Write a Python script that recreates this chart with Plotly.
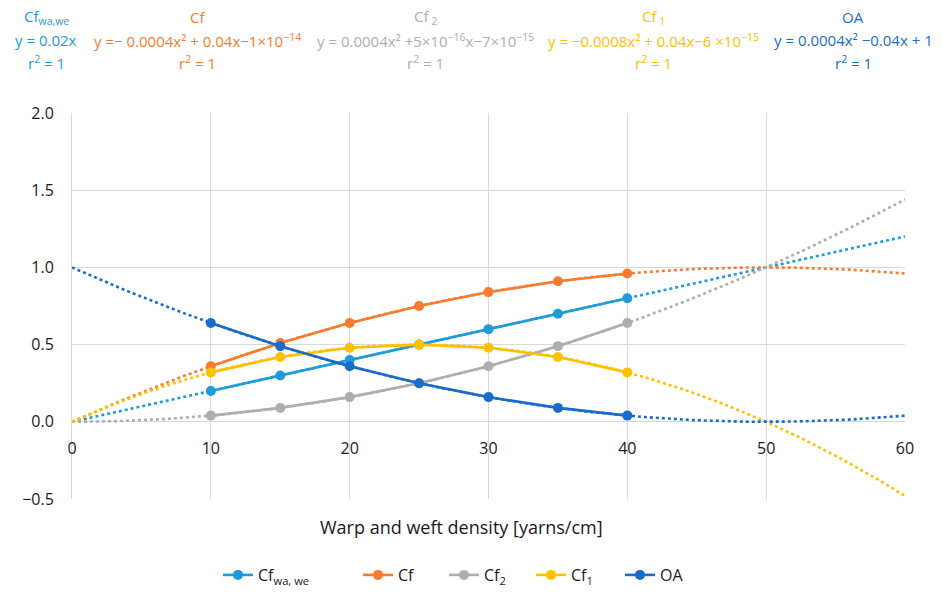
import numpy as np
import plotly.graph_objects as go

density = [10, 15, 20, 25, 30, 35, 40]
cf_wawe = [0.20, 0.30, 0.40, 0.50, 0.60, 0.70, 0.80]
cf = [0.36, 0.51, 0.64, 0.75, 0.84, 0.91, 0.96]
cf2 = [0.04, 0.09, 0.16, 0.25, 0.36, 0.49, 0.64]
cf1 = [0.32, 0.42, 0.48, 0.50, 0.48, 0.42, 0.32]
oa = [0.64, 0.49, 0.36, 0.25, 0.16, 0.09, 0.04]

series_names = ["Cf<sub>wa, we</sub>", "Cf", "Cf<sub>2</sub>", "Cf<sub>1</sub>", "OA"]
series_values = [cf_wawe, cf, cf2, cf1, oa]
fit_degree = [1, 2, 2, 2, 2]
colors = ["#1E9BDA", "#F57C30", "#AEAEAE", "#FFC000", "#1B6CC8"]

eq_titles = ["Cf<sub>wa,we</sub>", "Cf", "Cf<sub> 2</sub>", "Cf<sub> 1</sub>", "OA"]
eq_texts = [
    "y = 0.02x",
    "y =− 0.0004x² + 0.04x−1×10<sup>−14</sup>",
    "y = 0.0004x² +5×10<sup>−16</sup>x−7×10<sup>−15</sup>",
    "y = −0.0008x² + 0.04x−6 ×10<sup>−15</sup>",
    "y = 0.0004x² −0.04x + 1",
]
eq_centers = [46, 197, 425, 653, 853]
legend_left = [218, 358, 444, 531, 620]

x_ticks = [0, 10, 20, 30, 40, 50, 60]
y_ticks = [-0.5, 0.0, 0.5, 1.0, 1.5, 2.0]
x_title = "Warp and weft density [yarns/cm]"

FONT = "Open Sans"
W, H = 942, 600
ml, mr, mt, mb = 72, 37, 113, 101
pw, ph = W - ml - mr, H - mt - mb


def px_x(p):
    return (p - ml) / pw


def px_y(p):
    return 1 - (p - mt) / ph


fig = go.Figure()

xx = np.linspace(0, 60, 241)
for name, vals, deg, col in zip(series_names, series_values, fit_degree, colors):
    coef = np.polyfit(density, vals, deg)
    fig.add_trace(go.Scatter(x=xx, y=np.polyval(coef, xx), mode="lines",
                             line=dict(color=col, width=2.6, dash="dot"),
                             showlegend=False, hoverinfo="skip"))

legend_layouts = {}
for i, (name, vals, col) in enumerate(zip(series_names, series_values, colors)):
    lname = "legend" if i == 0 else f"legend{i + 1}"
    fig.add_trace(go.Scatter(x=density, y=vals, mode="lines+markers", name=name,
                             line=dict(color=col, width=2.6),
                             marker=dict(color=col, size=10),
                             legend=lname))
    legend_layouts[lname] = dict(
        x=px_x(legend_left[i]), xanchor="left", y=px_y(558), yanchor="top",
        orientation="h", bgcolor="rgba(0,0,0,0)",
        font=dict(family=FONT, size=16, color="#1a1a1a"))

for title, txt, cx, col in zip(eq_titles, eq_texts, eq_centers, colors):
    for i, t in enumerate([title, txt, "r<sup>2</sup> = 1"]):
        fig.add_annotation(text=t, x=px_x(cx), y=px_y(17 + 23 * i),
                           xref="paper", yref="paper",
                           showarrow=False, xanchor="center", yanchor="middle",
                           font=dict(family=FONT, size=15, color=col))

fig.add_annotation(text=x_title, x=px_x(461), y=px_y(527),
                   xref="paper", yref="paper", showarrow=False,
                   xanchor="center", yanchor="middle",
                   font=dict(family=FONT, size=18, color="#1a1a1a"))

fig.update_layout(
    width=W, height=H,
    margin=dict(l=ml, r=mr, t=mt, b=mb, autoexpand=False),
    paper_bgcolor="white", plot_bgcolor="white",
    font=dict(family=FONT, size=15, color="#1a1a1a"),
    showlegend=True,
    xaxis=dict(range=[0, 60], tickvals=x_ticks, ticktext=[str(v) for v in x_ticks],
               showgrid=True, gridcolor="#D9D9D9", gridwidth=1,
               zeroline=False, showline=False, ticks="",
               anchor="free", position=0.2, ticklabelstandoff=15,
               tickfont=dict(family=FONT, size=16, color="#1a1a1a")),
    yaxis=dict(range=[-0.5, 2.0], tickvals=y_ticks,
               ticktext=["−0.5", "0.0", "0.5", "1.0", "1.5", "2.0"],
               showgrid=True, gridcolor="#D9D9D9", gridwidth=1,
               zeroline=False, showline=True, linecolor="#D9D9D9", linewidth=1,
               ticks="", ticklabelstandoff=14,
               tickfont=dict(family=FONT, size=16, color="#1a1a1a")),
)
fig.update_layout(**legend_layouts)

fig.write_html("out.html")
